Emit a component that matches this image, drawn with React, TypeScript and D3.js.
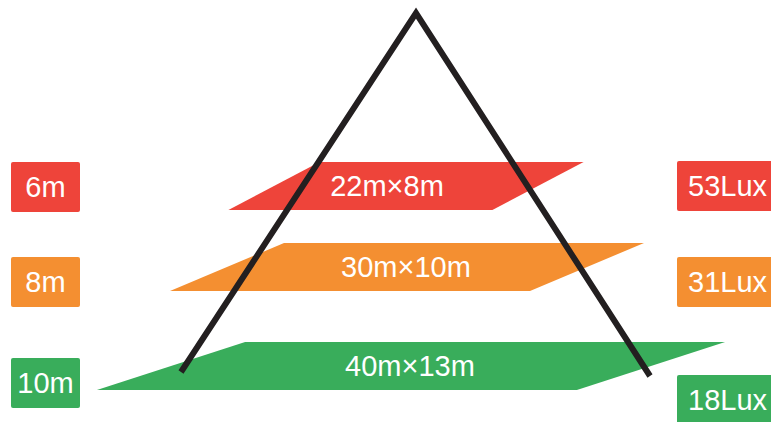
import React, { useEffect, useRef } from 'react';
import * as d3 from 'd3';

// distance rows (top to bottom)
const distances = [6, 8, 10];
const distanceLabels = ['6m', '8m', '10m'];
const areaWidths = [22, 30, 40]; // metres
const areaDepths = [8, 10, 13]; // metres
const areaLabels = ['22m×8m', '30m×10m', '40m×13m'];
const luxLabels = ['53Lux', '31Lux', '18Lux'];
const rowColors = ['#ee443a', '#f48f31', '#39ad5b'];

const W = 771;
const H = 422;

const App: React.FC = () => {
  const svgRef = useRef<SVGSVGElement>(null);

  useEffect(() => {
    if (!svgRef.current) return;
    const svg = d3.select(svgRef.current);
    svg.selectAll('*').remove();

    const font = '"Liberation Sans", Arial, sans-serif';

    // distance -> top of the plane
    const yPlane = d3.scaleLinear().domain([6, 8, 10]).range([162, 243, 342]);
    const yLeftBox = d3.scaleLinear().domain([6, 8, 10]).range([162, 257, 358]);
    const yRightBox = d3.scaleLinear().domain([6, 8, 10]).range([161, 257, 375]);
    const planeH = 48;
    // metres -> pixels
    const wScale = d3.scaleLinear().domain([0, 1]).range([0, 12]);
    const dScale = d3.scaleLinear().domain([0, 1]).range([0, 11.4]);
    const centers = [406, 407, 411];
    const labelX = [387, 406, 410];

    const rows = distances.map((d, i) => ({
      d,
      w: wScale(areaWidths[i]),
      s: dScale(areaDepths[i]),
      cx: centers[i],
      lx: labelX[i],
      color: rowColors[i],
      area: areaLabels[i],
      dist: distanceLabels[i],
      lux: luxLabels[i],
    }));

    const line = d3.line<[number, number]>();

    // planes
    const planes = svg.append('g');
    rows.forEach((r) => {
      const y0 = yPlane(r.d);
      const y1 = y0 + planeH;
      const pts: [number, number][] = [
        [r.cx - r.w / 2 + r.s / 2, y0],
        [r.cx + r.w / 2 + r.s / 2, y0],
        [r.cx + r.w / 2 - r.s / 2, y1],
        [r.cx - r.w / 2 - r.s / 2, y1],
      ];
      planes.append('path').attr('d', line(pts) + 'Z').attr('fill', r.color);
      planes
        .append('text')
        .attr('x', r.lx)
        .attr('y', y0 + planeH / 2 + 10)
        .attr('text-anchor', 'middle')
        .attr('fill', 'white')
        .attr('font-family', font)
        .attr('font-size', '29px')
        .text(r.area);
    });

    // light cone
    svg
      .append('path')
      .attr('d', line([[181, 372], [416, 13], [650, 376]]))
      .attr('fill', 'none')
      .attr('stroke', '#231f20')
      .attr('stroke-width', 6)
      .attr('stroke-linejoin', 'miter');

    // left distance boxes
    rows.forEach((r) => {
      const y = yLeftBox(r.d);
      svg.append('rect')
        .attr('x', 11).attr('y', y).attr('width', 69).attr('height', 50)
        .attr('rx', 2).attr('fill', r.color);
      svg.append('text')
        .attr('x', 45.5).attr('y', y + 35)
        .attr('text-anchor', 'middle')
        .attr('fill', 'white')
        .attr('font-family', font)
        .attr('font-size', '29px')
        .text(r.dist);
    });

    // right lux boxes
    rows.forEach((r) => {
      const y = yRightBox(r.d);
      svg.append('rect')
        .attr('x', 677).attr('y', y).attr('width', 110).attr('height', 50)
        .attr('rx', 2).attr('fill', r.color);
      svg.append('text')
        .attr('x', 688).attr('y', y + 35)
        .attr('fill', 'white')
        .attr('font-family', font)
        .attr('font-size', '29px')
        .text(r.lux);
    });
  }, []);

  return (
    <svg
      ref={svgRef}
      width={W}
      height={H}
      style={{ position: 'absolute', left: 0, top: 0, background: 'white' }}
    />
  );
};

export default App;
